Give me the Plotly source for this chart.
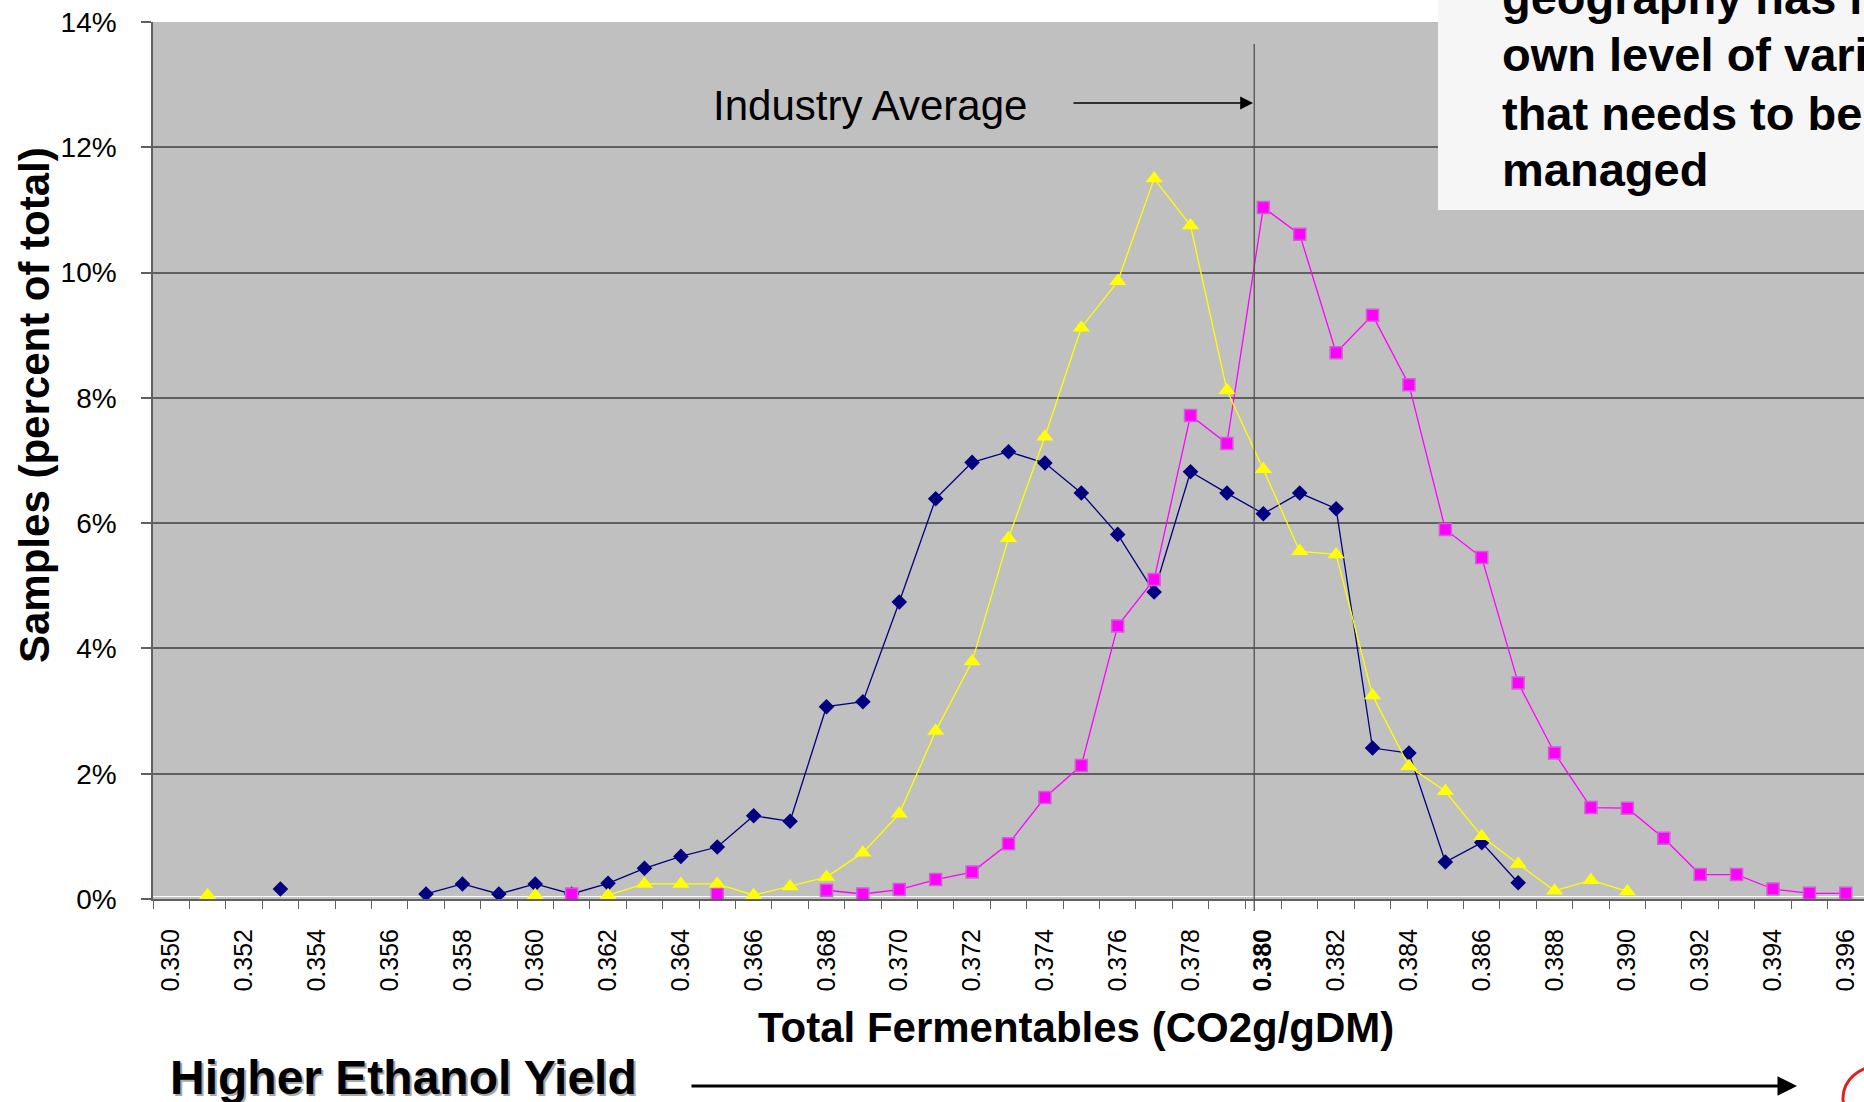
import plotly.graph_objects as go

# ---------------- data ----------------
x_labels = ["0.350", "0.351", "0.352", "0.353", "0.354", "0.355", "0.356", "0.357", "0.358", "0.359",
            "0.360", "0.361", "0.362", "0.363", "0.364", "0.365", "0.366", "0.367", "0.368", "0.369",
            "0.370", "0.371", "0.372", "0.373", "0.374", "0.375", "0.376", "0.377", "0.378", "0.379",
            "0.380", "0.381", "0.382", "0.383", "0.384", "0.385", "0.386", "0.387", "0.388", "0.389",
            "0.390", "0.391", "0.392", "0.393", "0.394", "0.395", "0.396"]

# percent of samples
series_blue = [None, None, None, 0.16, None, None, None, 0.08, 0.24, 0.08,
               0.24, 0.08, 0.25, 0.49, 0.68, 0.83, 1.33, 1.24, 3.07, 3.15,
               4.74, 6.39, 6.97, 7.14, 6.96, 6.48, 5.82, 4.90, 6.82, 6.48,
               6.15, 6.48, 6.23, 2.41, 2.33, 0.59, 0.90, 0.26, None, None,
               None, None, None, None, None, None, None]

series_magenta = [None, None, None, None, None, None, None, None, None, None,
                  None, 0.08, None, None, None, 0.08, None, None, 0.14, 0.08,
                  0.15, 0.31, 0.43, 0.88, 1.62, 2.13, 4.36, 5.10, 7.72, 7.27,
                  11.04, 10.61, 8.72, 9.32, 8.21, 5.90, 5.45, 3.45, 2.33, 1.46,
                  1.45, 0.97, 0.39, 0.39, 0.16, 0.09, 0.09]

series_yellow = [None, 0.06, None, None, None, None, None, None, None, None,
                 0.06, None, 0.06, 0.24, 0.24, 0.24, 0.06, 0.20, 0.35, 0.74,
                 1.36, 2.68, 3.79, 5.76, 7.38, 9.12, 9.86, 11.50, 10.75, 8.12,
                 6.86, 5.55, 5.50, 3.25, 2.12, 1.72, 1.00, 0.56, 0.13, 0.30,
                 0.12, None, None, None, None, None, None]

tick_text = ["0.350", "", "0.352", "", "0.354", "", "0.356", "", "0.358", "",
             "0.360", "", "0.362", "", "0.364", "", "0.366", "", "0.368", "",
             "0.370", "", "0.372", "", "0.374", "", "0.376", "", "0.378", "",
             "<b>0.380</b>", "", "0.382", "", "0.384", "", "0.386", "", "0.388", "",
             "0.390", "", "0.392", "", "0.394", "", "0.396"]

industry_avg = 0.37975
box_lines = ["geography has its", "own level of variability", "that needs to be", "managed"]

# ---------------- layout geometry ----------------
W, H = 1864, 1102
ML, MR, MT, MB = 153, 0, 22, 203
PW, PH = W - ML - MR, H - MT - MB


def px_x(px):
    return (px - ML) / PW


def px_y(py):
    return (H - MB - py) / PH


FONT = "Liberation Sans, Arial, sans-serif"

fig = go.Figure()
fig.add_trace(go.Scatter(x=x_labels, y=series_blue, mode="lines+markers", name="Series 1",
                         line=dict(color="#000080", width=1.3),
                         marker=dict(symbol="diamond", size=12, color="#000080"),
                         connectgaps=False))
fig.add_trace(go.Scatter(x=x_labels, y=series_magenta, mode="lines+markers", name="Series 2",
                         line=dict(color="#FF00FF", width=1.3),
                         marker=dict(symbol="square", size=12, color="#FF00FF",
                                     line=dict(color="#D060D0", width=1.5)),
                         connectgaps=False))
fig.add_trace(go.Scatter(x=x_labels, y=series_yellow, mode="lines+markers", name="Series 3",
                         line=dict(color="#FFFF00", width=1.3),
                         marker=dict(symbol="triangle-up", size=15, color="#FFFF00"),
                         connectgaps=False))

avg_pos = (industry_avg - float(x_labels[0])) / 0.001

shapes = [
    # industry average vertical line
    dict(type="line", xref="x", yref="paper", x0=avg_pos, x1=avg_pos,
         y0=px_y(44), y1=px_y(911), line=dict(color="#505050", width=1.3), layer="above"),
    # white highlight above the category axis line
    dict(type="line", xref="paper", yref="paper", x0=0, x1=1, y0=px_y(896.5), y1=px_y(896.5),
         line=dict(color="white", width=1), layer="below"),
    # text box
    dict(type="rect", xref="paper", yref="paper", x0=px_x(1438), x1=px_x(1900),
         y0=px_y(210), y1=px_y(-20), fillcolor="#F6F6F6", line=dict(width=0), layer="above"),
    # partial logo
    dict(type="circle", xref="paper", yref="paper", x0=px_x(1843), x1=px_x(1915),
         y0=px_y(1130), y1=px_y(1066), line=dict(color="#E02020", width=3), layer="above"),
]

annotations = [
    dict(text="Samples (percent of total)", xref="paper", yref="paper", x=px_x(35), y=px_y(405),
         textangle=-90, showarrow=False, xanchor="center", yanchor="middle",
         font=dict(family=FONT, size=42, color="black", weight="bold")),
    dict(text="Total Fermentables (CO2g/gDM)", xref="paper", yref="paper", x=px_x(1076), y=px_y(1027),
         showarrow=False, xanchor="center", yanchor="middle",
         font=dict(family=FONT, size=42, color="black", weight="bold")),
    dict(text="Higher Ethanol Yield", xref="paper", yref="paper", x=px_x(405.5), y=px_y(1079),
         showarrow=False, xanchor="center", yanchor="middle",
         font=dict(family=FONT, size=48, color="#A8A8A8", weight="bold")),
    dict(text="Higher Ethanol Yield", xref="paper", yref="paper", x=px_x(403.5), y=px_y(1077),
         showarrow=False, xanchor="center", yanchor="middle",
         font=dict(family=FONT, size=48, color="black", weight="bold")),
    dict(text="Industry Average", xref="paper", yref="paper", x=px_x(869.5), y=px_y(105),
         showarrow=False, xanchor="center", yanchor="middle",
         font=dict(family=FONT, size=42, color="black")),
    # arrows
    dict(text="", xref="paper", yref="paper", x=px_x(1253), y=px_y(103), ax=-181, ay=0,
         showarrow=True, arrowhead=2, arrowsize=1.6, arrowwidth=1.6, arrowcolor="black"),
    dict(text="", xref="paper", yref="paper", x=px_x(1797), y=px_y(1086), ax=-1107, ay=0,
         showarrow=True, arrowhead=2, arrowsize=1.3, arrowwidth=3, arrowcolor="black"),
]

for line, cy in zip(box_lines, [-2, 55, 113, 169]):
    annotations.append(dict(text=line, xref="paper", yref="paper", x=px_x(1500), y=px_y(cy),
                            showarrow=False, xanchor="left", yanchor="middle",
                            font=dict(family=FONT, size=47, color="black", weight="bold")))

fig.update_layout(
    width=W, height=H,
    margin=dict(l=ML, r=MR, t=MT, b=MB, autoexpand=False),
    paper_bgcolor="white", plot_bgcolor="#C0C0C0",
    showlegend=False,
    font=dict(family=FONT, color="black"),
    shapes=shapes, annotations=annotations,
    xaxis=dict(type="category", categoryorder="array", categoryarray=x_labels,
               range=[-0.5, len(x_labels) - 0.5],
               tickmode="array", tickvals=x_labels, ticktext=tick_text,
               tickson="boundaries", ticks="outside", ticklen=8, tickwidth=1.3, tickcolor="#606060",
               tickangle=-90, tickfont=dict(family=FONT, size=25, color="black"),
               ticklabelstandoff=18,
               showgrid=False, showline=True, linecolor="#606060", linewidth=2, zeroline=False),
    yaxis=dict(range=[0, 14], dtick=2, tick0=0, ticksuffix="%",
               ticks="outside", ticklen=10, tickwidth=1.5, tickcolor="#606060",
               tickfont=dict(family=FONT, size=28, color="black"),
               ticklabelstandoff=19,
               showgrid=True, gridcolor="#606060", gridwidth=1.5,
               showline=True, linecolor="#606060", linewidth=1.5, zeroline=False),
)

fig.write_html("out.html", config={"displayModeBar": False},
               post_script="document.body.style.margin='0';document.body.style.overflow='hidden';")
